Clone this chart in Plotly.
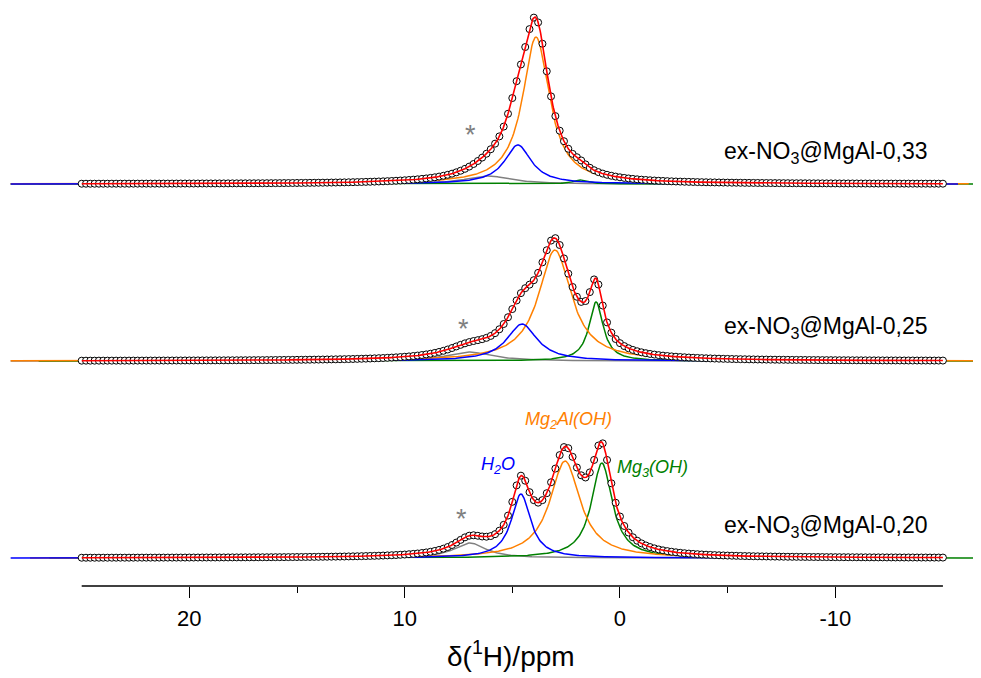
import numpy as np
import plotly.graph_objects as go

# ---------------- data ----------------
sample_labels = ["ex-NO<sub>3</sub>@MgAl-0,33",
                 "ex-NO<sub>3</sub>@MgAl-0,25",
                 "ex-NO<sub>3</sub>@MgAl-0,20"]

# component order: H2O (blue), Mg2Al(OH) (orange), Mg3(OH) (green), side band * (gray)
component_names = ["H2O", "Mg2Al(OH)", "Mg3(OH)", "*"]

# fitted peak parameters: centre (ppm), height (a.u.), FWHM (ppm)
center_033 = [4.74, 3.90, 1.86, 6.13]
height_033 = [39.0, 147.0, 4.0, 8.0]
fwhm_033 = [1.50, 1.50, 0.80, 2.50]

center_025 = [4.55, 3.02, 1.11, 7.00]
height_025 = [37.0, 111.0, 59.0, 9.0]
fwhm_025 = [1.70, 1.85, 0.80, 2.50]

center_020 = [4.60, 2.55, 0.84, 6.97]
height_020 = [64.0, 97.0, 95.0, 15.0]
fwhm_020 = [1.08, 1.70, 1.16, 1.80]

# x ranges (ppm) of the drawn component curves
range_033 = [[28.3, -15.7], [28.3, -16.2], [28.3, -16.5], [27.0, -15.0]]
range_025 = [[25.0, -15.0], [28.3, -16.5], [27.0, -16.5], [28.3, -15.0]]
range_020 = [[28.3, -15.0], [27.4, -15.0], [26.5, -16.5], [25.0, -15.0]]

data_start, data_stop, data_step = 25.0, -15.0, -0.2   # measured points

x_ticks = [20, 10, 0, -10]
x_minor_ticks = [15, 5, -5]

# ---------------- styling ----------------
comp_colors = ["#0000FF", "#FF8000", "#008000", "#808080"]
offsets = [402, 225, 28]
label_y = [434, 259, 60]
star_pos = [(6.92, 451), (7.29, 257), (7.38, 67)]

FONT = "Arial, Liberation Sans, sans-serif"


def lorentz(x, c, h, w):
    return h / (1.0 + ((x - c) / (w / 2.0)) ** 2)


params = [(center_033, height_033, fwhm_033, range_033),
          (center_025, height_025, fwhm_025, range_025),
          (center_020, height_020, fwhm_020, range_020)]

fig = go.Figure()
x_data = np.arange(data_start, data_stop + data_step / 2, data_step)

for (cen, hei, fw, rng), off in zip(params, offsets):
    # components: gray, green, orange, blue (blue on top)
    for k in [3, 2, 1, 0]:
        xs = np.linspace(rng[k][0], rng[k][1], 900)
        ys = lorentz(xs, cen[k], hei[k], fw[k]) + off
        fig.add_trace(go.Scatter(x=xs, y=ys, mode="lines",
                                 line=dict(color=comp_colors[k], width=1.5),
                                 hoverinfo="skip", showlegend=False))
    total = sum(lorentz(x_data, cen[k], hei[k], fw[k]) for k in range(4)) + off
    fig.add_trace(go.Scatter(x=x_data, y=total, mode="markers",
                             marker=dict(symbol="circle", size=7, color="white",
                                         line=dict(color="black", width=1)),
                             showlegend=False))
    xs = np.linspace(data_start, data_stop, 1500)
    fit = sum(lorentz(xs, cen[k], hei[k], fw[k]) for k in range(4)) + off
    fig.add_trace(go.Scatter(x=xs, y=fit, mode="lines",
                             line=dict(color="#FF0000", width=1.6),
                             showlegend=False))

annotations = []
for lab, ly in zip(sample_labels, label_y):
    annotations.append(dict(x=-4.74, y=ly, xref="x", yref="y", text=lab,
                            showarrow=False, xanchor="left", yanchor="middle",
                            font=dict(family=FONT, size=23, color="black")))
for sx, sy in star_pos:
    annotations.append(dict(x=sx, y=sy, xref="x", yref="y", text="*",
                            showarrow=False, xanchor="center", yanchor="middle",
                            font=dict(family=FONT, size=27, color="#808080")))

annotations += [
    dict(x=5.67, y=121, xref="x", yref="y", text="<i>H<sub>2</sub>O</i>",
         showarrow=False, font=dict(family=FONT, size=18, color="#0000FF")),
    dict(x=2.37, y=166, xref="x", yref="y", text="<i>Mg<sub>2</sub>Al(OH)</i>",
         showarrow=False, font=dict(family=FONT, size=18, color="#FF8000")),
    dict(x=-1.53, y=118, xref="x", yref="y", text="<i>Mg<sub>3</sub>(OH)</i>",
         showarrow=False, font=dict(family=FONT, size=18, color="#008000")),
    dict(x=0.519, y=-0.118, xref="paper", yref="paper",
         text="δ(<sup>1</sup>H)/ppm", showarrow=False,
         xanchor="center", yanchor="middle",
         font=dict(family=FONT, size=28, color="black")),
]

# the page body adds an 8 px margin, so the figure is 8 px smaller and shifted
fig.update_layout(
    width=973, height=670,
    margin=dict(l=2, r=6, t=0, b=92),
    plot_bgcolor="white", paper_bgcolor="white",
    annotations=annotations,
    shapes=[dict(type="line", xref="x", yref="paper", x0=25, x1=-15,
                 y0=0, y1=0, line=dict(color="black", width=1.3))],
    xaxis=dict(range=[28.33, -16.49], showline=False, showgrid=False,
               zeroline=False, ticks="outside", ticklen=11, tickwidth=1.3,
               tickcolor="black", tickvals=x_ticks,
               ticktext=[str(v) for v in x_ticks],
               ticklabelstandoff=2,
               tickfont=dict(family=FONT, size=22, color="black"),
               minor=dict(tickvals=x_minor_ticks, ticks="outside", ticklen=6,
                          tickwidth=1.3, tickcolor="black", showgrid=False)),
    yaxis=dict(range=[0, 578], visible=False, showgrid=False, zeroline=False),
)

fig.write_html("out.html")
